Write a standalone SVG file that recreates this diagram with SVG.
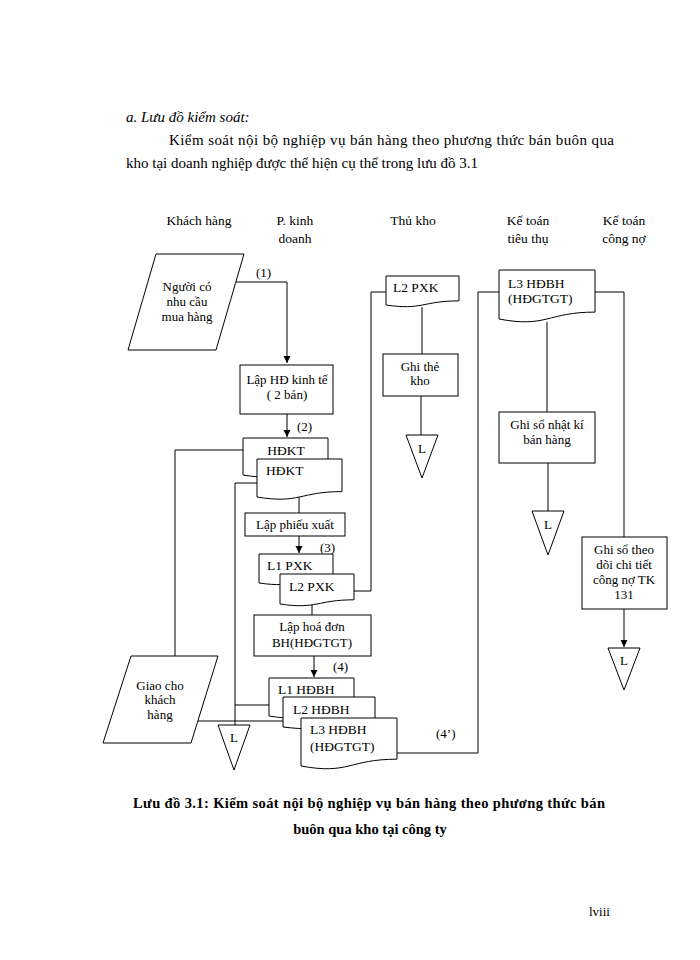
<svg xmlns="http://www.w3.org/2000/svg" width="700" height="960" viewBox="0 0 700 960" font-family="'Liberation Serif', 'Times New Roman', serif">
<defs>
<marker id="arr" markerWidth="8" markerHeight="8" refX="7" refY="4" orient="auto" markerUnits="userSpaceOnUse">
<path d="M0,0.5 L7,4 L0,7.5 Z" fill="#000"/>
</marker>
<style>
text{font-family:"Liberation Serif","Times New Roman",serif;fill:#000}
.t{font-size:13px}
.h{font-size:13.5px}
.c{text-anchor:middle}
.d{font-size:13.5px}
.s{fill:#fff;stroke:#000;stroke-width:1}
.ln{fill:none;stroke:#000;stroke-width:1}
</style>
</defs>
<rect width="700" height="960" fill="#fff"/>

<text x="126" y="122" font-size="15" font-style="italic">a. Lưu đồ kiểm soát:</text>
<text x="169" y="145" font-size="15" textLength="445" lengthAdjust="spacing">Kiểm soát nội bộ nghiệp vụ bán hàng theo phương thức bán buôn qua</text>
<text x="126" y="168" font-size="15">kho tại doanh nghiệp được thể hiện cụ thể trong lưu đồ 3.1</text>

<g id="headers">
<text class="h c" x="199" y="225">Khách hàng</text>
<text class="h c" x="295" y="225">P. kinh</text>
<text class="h c" x="295" y="243">doanh</text>
<text class="h c" x="413" y="225">Thủ kho</text>
<text class="h c" x="528" y="225">Kế toán</text>
<text class="h c" x="528" y="243">tiêu thụ</text>
<text class="h c" x="624" y="225">Kế toán</text>
<text class="h c" x="624" y="243">công  nợ</text>
</g>

<g id="connectors">
<polyline class="ln" points="236,282 287,282 287,363" marker-end="url(#arr)"/>
<polyline class="ln" points="287,414 287,437" marker-end="url(#arr)"/>
<polyline class="ln" points="243,450 175,450 175,656"/>
<polyline class="ln" points="257,483 235,483 235,725"/>
<polyline class="ln" points="299,497 299,513"/>
<polyline class="ln" points="299,536 299,553" marker-end="url(#arr)"/>
<polyline class="ln" points="354,591 371,591 371,292 386,292"/>
<polyline class="ln" points="312,604 312,615"/>
<polyline class="ln" points="314,656 314,677" marker-end="url(#arr)"/>
<polyline class="ln" points="235,705 269,705"/>
<polyline class="ln" points="198,721 283,721"/>
<polyline class="ln" points="397,753 478,753 478,292 499,292"/>
<polyline class="ln" points="422,307 422,354"/>
<polyline class="ln" points="421,396 421,435"/>
<polyline class="ln" points="547,322 547,412"/>
<polyline class="ln" points="548,463 548,511"/>
<polyline class="ln" points="595,292 624,292 624,537"/>
<polyline class="ln" points="624,609 624,647" marker-end="url(#arr)"/>
</g>

<g id="n-nguoi-co-nhu-cau">
<polygon class="s" points="156,254 244,254 216,350 128,350"/>
<text class="t c" x="187" y="291">Người có</text>
<text class="t c" x="187" y="306">nhu cầu</text>
<text class="t c" x="187" y="321">mua hàng</text>
</g>
<text class="t" x="256" y="277">(1)</text>

<g id="n-lap-hd-kinh-te">
<rect class="s" x="240" y="365" width="93" height="49"/>
<text class="t c" x="287" y="384">Lập HĐ kinh tế</text>
<text class="t c" x="287" y="399">( 2 bản)</text>
</g>
<text class="t" x="297" y="431">(2)</text>

<g id="n-hdkt-1">
<path class="s" d="M243,438 H328 V469.8 C285.5,469.8 285.5,481.9 243,475 Z"/>
<text class="d c" x="286" y="455">HĐKT</text>
</g>
<g id="n-hdkt-2">
<path class="s" d="M257,459 H342 V491.6 C299.5,491.6 299.5,504.1 257,497 Z"/>
<text class="d" x="266" y="475">HĐKT</text>
</g>

<g id="n-lap-phieu-xuat">
<rect class="s" x="245" y="513" width="100" height="23"/>
<text class="t c" x="295" y="529">Lập phiếu  xuất</text>
</g>
<text class="t" x="320" y="552">(3)</text>

<g id="n-l1-pxk">
<path class="s" d="M259,554 H333 V578.9 C296,578.9 296,588.3 259,583 Z"/>
<text class="d" x="267" y="570">L1 PXK</text>
</g>
<g id="n-l2-pxk">
<path class="s" d="M280,574 H354 V599.8 C317,599.8 317,609.6 280,604 Z"/>
<text class="d" x="289" y="591">L2 PXK</text>
</g>

<g id="n-lap-hoa-don">
<rect class="s" x="254" y="615" width="117" height="41"/>
<text class="t c" x="312" y="631">Lập hoá đơn</text>
<text class="t c" x="312" y="647">BH(HĐGTGT)</text>
</g>
<text class="t" x="333" y="671">(4)</text>

<g id="n-l1-hdbh">
<path class="s" d="M269,678 H354 V710.6 C311.5,710.6 311.5,723 269,716 Z"/>
<text class="d" x="278" y="694">L1 HĐBH</text>
</g>
<g id="n-l2-hdbh">
<path class="s" d="M283,697 H375 V722.8 C329,722.8 329,732.6 283,727 Z"/>
<text class="d" x="293" y="714">L2 HĐBH</text>
</g>
<g id="n-l3-hdbh">
<path class="s" d="M301,718 H397 V759.2 C349,759.2 349,774.9 301,766 Z"/>
<text class="d" x="310" y="734">L3 HĐBH</text>
<text class="d" x="310" y="751">(HĐGTGT)</text>
</g>
<text class="t" x="436" y="738">(4’)</text>

<g id="n-giao-cho-khach-hang">
<polygon class="s" points="131,656 218,656 191,743 103,743"/>
<text class="t c" x="160" y="690">Giao  cho</text>
<text class="t c" x="160" y="704">khách</text>
<text class="t c" x="160" y="719">hàng</text>
</g>

<g id="n-l-kh">
<polygon class="s" points="218,725 250,725 234,770"/>
<text class="t c" x="234" y="742">L</text>
</g>

<g id="n-tk-l2-pxk">
<path class="s" d="M386,276 H459 V300.9 C422.5,300.9 422.5,310.4 386,305 Z"/>
<text class="d" x="393" y="292">L2 PXK</text>
</g>
<g id="n-ghi-the-kho">
<rect class="s" x="383" y="354" width="75" height="42"/>
<text class="t c" x="420" y="371">Ghi thẻ</text>
<text class="t c" x="420" y="385">kho</text>
</g>
<g id="n-l-tk">
<polygon class="s" points="406,435 438,435 422,478"/>
<text class="t c" x="422" y="453">L</text>
</g>

<g id="n-tt-l3-hdbh">
<path class="s" d="M499,270 H595 V312.1 C547,312.1 547,328.1 499,319 Z"/>
<text class="d" x="508" y="288">L3 HĐBH</text>
<text class="d" x="508" y="303">(HĐGTGT)</text>
</g>
<g id="n-ghi-so-nhat-ki">
<rect class="s" x="499" y="412" width="96" height="51"/>
<text class="t c" x="547" y="429">Ghi  sổ nhật kí</text>
<text class="t c" x="547" y="444">bán hàng</text>
</g>
<g id="n-l-tt">
<polygon class="s" points="532,511 564,511 548,555"/>
<text class="t c" x="548" y="529">L</text>
</g>

<g id="n-ghi-so-cong-no">
<rect class="s" x="582" y="537" width="85" height="72"/>
<text class="t c" x="624" y="554">Ghi  sổ theo</text>
<text class="t c" x="624" y="569">dõi chi tiết</text>
<text class="t c" x="624" y="584">công nợ TK</text>
<text class="t c" x="624" y="599">131</text>
</g>
<g id="n-l-cn">
<polygon class="s" points="608,648 640,648 624,690"/>
<text class="t c" x="624" y="665">L</text>
</g>

<text x="369" y="808" font-size="14.5" font-weight="bold" text-anchor="middle" textLength="472" lengthAdjust="spacing">Lưu đồ 3.1: Kiểm soát nội bộ nghiệp vụ bán hàng theo phương thức bán</text>
<text x="370" y="834" font-size="14.5" font-weight="bold" text-anchor="middle">buôn  qua kho  tại công ty</text>
<text x="589" y="916" font-size="13">lviii</text>
</svg>
